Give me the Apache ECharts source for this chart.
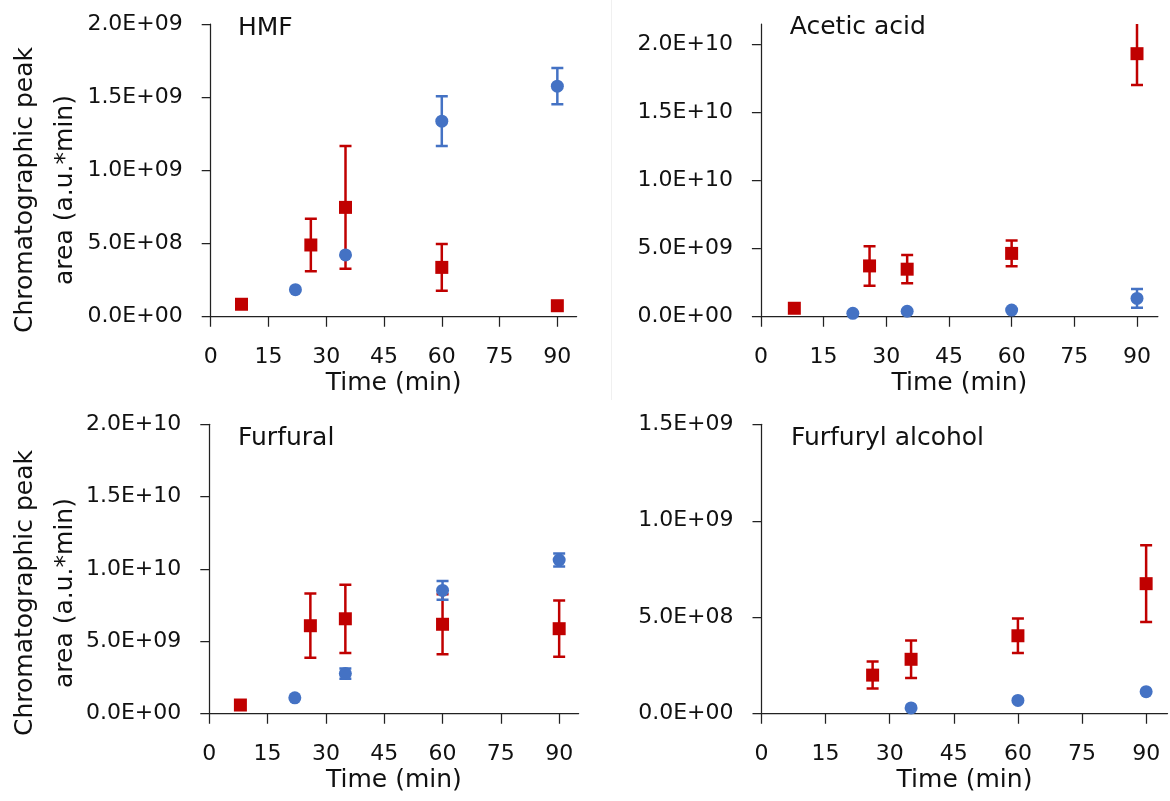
<!DOCTYPE html>
<html>
<head>
<meta charset="utf-8">
<script src="https://cdn.jsdelivr.net/npm/echarts@6/dist/echarts.min.js"></script>
<style>
html,body{margin:0;padding:0;background:#fff;}
#chart{width:1170px;height:801px;}
</style>
</head>
<body>
<div id="chart"></div>
<script>
// ---- Data ----
const panelTitles = ['HMF', 'Acetic acid', 'Furfural', 'Furfuryl alcohol'];
const xTicks = [0, 15, 30, 45, 60, 75, 90];
const xMax = 95;
const yTicksHMF = [0, 5e8, 1e9, 1.5e9, 2e9];
const yTicksAcetic = [0, 5e9, 1e10, 1.5e10, 2e10];
const yTicksFurfural = [0, 5e9, 1e10, 1.5e10, 2e10];
const yTicksFurfuryl = [0, 5e8, 1e9, 1.5e9];
const yMaxes = [2e9, 2.15e10, 2e10, 1.5e9];

// HMF
const hmfRedT = [8, 26, 35, 60, 90];
const hmfRedV = [8.5e7, 4.9e8, 7.47e8, 3.37e8, 7.5e7];
const hmfRedE = [0, 1.8e8, 4.19e8, 1.59e8, 0];
const hmfBlueT = [22, 35, 60, 90];
const hmfBlueV = [1.85e8, 4.22e8, 1.336e9, 1.575e9];
const hmfBlueE = [0, 0, 1.7e8, 1.24e8];

// Acetic acid
const aceRedT = [8, 26, 35, 60, 90];
const aceRedV = [6.2e8, 3.73e9, 3.49e9, 4.65e9, 1.932e10];
const aceRedE = [0, 1.45e9, 1.04e9, 0.95e9, 2.3e9];
const aceBlueT = [22, 35, 60, 90];
const aceBlueV = [2.5e8, 4.0e8, 4.9e8, 1.345e9];
const aceBlueE = [0, 0, 0, 6.85e8];

// Furfural
const furRedT = [8, 26, 35, 60, 90];
const furRedV = [6.0e8, 6.08e9, 6.56e9, 6.18e9, 5.875e9];
const furRedE = [0, 2.22e9, 2.36e9, 2.07e9, 1.94e9];
const furBlueT = [22, 35, 60, 90];
const furBlueV = [1.1e9, 2.77e9, 8.52e9, 1.062e10];
const furBlueE = [0, 3.5e8, 6.5e8, 4.5e8];

// Furfuryl alcohol
const fuaRedT = [26, 35, 60, 90];
const fuaRedV = [2.0e8, 2.82e8, 4.04e8, 6.74e8];
const fuaRedE = [0.7e8, 0.97e8, 0.89e8, 1.99e8];
const fuaBlueT = [35, 60, 90];
const fuaBlueV = [3.0e7, 6.9e7, 1.14e8];
const fuaBlueE = [0, 0, 0];

const yTitle = 'Chromatographic peak\narea (a.u.*min)';
const xTitle = 'Time (min)';

// ---- Styling ----
const RED = '#C00000';
const BLUE = '#4472C4';
const FONT = 'DejaVu Sans';
const AXIS_COLOR = '#222';
const TEXT_COLOR = '#111';

const grids = [
  {left: 210.7, top: 24, width: 365.9, height: 292.7},
  {left: 760.9, top: 24, width: 397, height: 292.7},
  {left: 209.3, top: 424.3, width: 369.3, height: 289.4},
  {left: 761.5, top: 424.3, width: 406, height: 289.4}
];
const yTickSets = [yTicksHMF, yTicksAcetic, yTicksFurfural, yTicksFurfuryl];
const panels = [
  {rt: hmfRedT, rv: hmfRedV, re: hmfRedE, bt: hmfBlueT, bv: hmfBlueV, be: hmfBlueE},
  {rt: aceRedT, rv: aceRedV, re: aceRedE, bt: aceBlueT, bv: aceBlueV, be: aceBlueE},
  {rt: furRedT, rv: furRedV, re: furRedE, bt: furBlueT, bv: furBlueV, be: furBlueE},
  {rt: fuaRedT, rv: fuaRedV, re: fuaRedE, bt: fuaBlueT, bv: fuaBlueV, be: fuaBlueE}
];
const titlePos = [[238, 28.8], [789.8, 27.5], [238, 438.3], [790.9, 438.3]];

function sci(v) {
  const s = Number(v).toExponential(1);
  const parts = s.split('e');
  const sign = parts[1][0];
  const digits = parts[1].slice(1).padStart(2, '0');
  return parts[0] + 'E' + sign + digits;
}

function zip3(t, v, e) { return t.map((x, i) => [x, v[i], e[i]]); }

function errSeries(idx, data, color) {
  return {
    type: 'custom', xAxisIndex: idx, yAxisIndex: idx, clip: true, silent: true,
    data: data,
    renderItem: function (params, api) {
      const x = api.value(0), v = api.value(1), e = api.value(2);
      if (!e) return null;
      const top = api.coord([x, v + e]);
      const bot = api.coord([x, v - e]);
      const hw = 6;
      const style = {stroke: color, lineWidth: 2.5, fill: null};
      return {type: 'group', children: [
        {type: 'line', shape: {x1: top[0], y1: top[1], x2: bot[0], y2: bot[1]}, style: style},
        {type: 'line', shape: {x1: top[0] - hw, y1: top[1], x2: top[0] + hw, y2: top[1]}, style: style},
        {type: 'line', shape: {x1: bot[0] - hw, y1: bot[1], x2: bot[0] + hw, y2: bot[1]}, style: style}
      ]};
    }
  };
}

const xAxes = [], yAxes = [], series = [];
grids.forEach((g, i) => {
  xAxes.push({
    type: 'value', gridIndex: i, min: 0, max: xMax,
    name: xTitle, nameLocation: 'middle', nameGap: 54,
    nameTextStyle: {fontFamily: FONT, fontSize: 25, color: TEXT_COLOR},
    axisLine: {onZero: false, lineStyle: {color: AXIS_COLOR, width: 1.25}},
    axisTick: {show: true, inside: false, length: 10, customValues: xTicks, lineStyle: {color: AXIS_COLOR, width: 1.25}},
    axisLabel: {customValues: xTicks, margin: 30, fontFamily: FONT, fontSize: 22, color: TEXT_COLOR},
    splitLine: {show: false}
  });
  yAxes.push({
    type: 'value', gridIndex: i, min: 0, max: yMaxes[i],
    axisLine: {show: true, onZero: false, lineStyle: {color: AXIS_COLOR, width: 1.25}},
    axisTick: {show: true, inside: false, length: 9, customValues: yTickSets[i], lineStyle: {color: AXIS_COLOR, width: 1.25}},
    axisLabel: {customValues: yTickSets[i], margin: 28, fontFamily: FONT, fontSize: 22, color: TEXT_COLOR, formatter: sci},
    splitLine: {show: false}
  });
  const p = panels[i];
  series.push(errSeries(i, zip3(p.rt, p.rv, p.re), RED));
  series.push({type: 'scatter', xAxisIndex: i, yAxisIndex: i, symbol: 'rect', symbolSize: 13,
    itemStyle: {color: RED, opacity: 1}, data: p.rt.map((x, k) => [x, p.rv[k]])});
  series.push(errSeries(i, zip3(p.bt, p.bv, p.be), BLUE));
  series.push({type: 'scatter', xAxisIndex: i, yAxisIndex: i, symbol: 'circle', symbolSize: 13,
    itemStyle: {color: BLUE, opacity: 1}, data: p.bt.map((x, k) => [x, p.bv[k]])});
});

const graphics = [
  {type: 'line', shape: {x1: 611.5, y1: 0, x2: 611.5, y2: 400}, style: {stroke: '#f0f0f0', lineWidth: 1}, silent: true}
];
panelTitles.forEach((t, i) => {
  graphics.push({type: 'text', x: titlePos[i][0], y: titlePos[i][1],
    style: {text: t, fontFamily: FONT, fontSize: 25, fill: TEXT_COLOR, textAlign: 'left', textVerticalAlign: 'middle'}});
});
[[45, 190], [45, 593]].forEach(pos => {
  graphics.push({type: 'text', x: pos[0], y: pos[1], rotation: Math.PI / 2,
    style: {text: yTitle, fontFamily: FONT, fontSize: 25, lineHeight: 40, fill: TEXT_COLOR, textAlign: 'center', textVerticalAlign: 'middle'}});
});

const chart = echarts.init(document.getElementById('chart'), null, {renderer: 'canvas'});
chart.setOption({
  animation: false,
  backgroundColor: '#fff',
  grid: grids.map(g => Object.assign({containLabel: false, outerBoundsMode: 'none'}, g)),
  xAxis: xAxes,
  yAxis: yAxes,
  series: series,
  graphic: graphics
});
</script>
</body>
</html>
